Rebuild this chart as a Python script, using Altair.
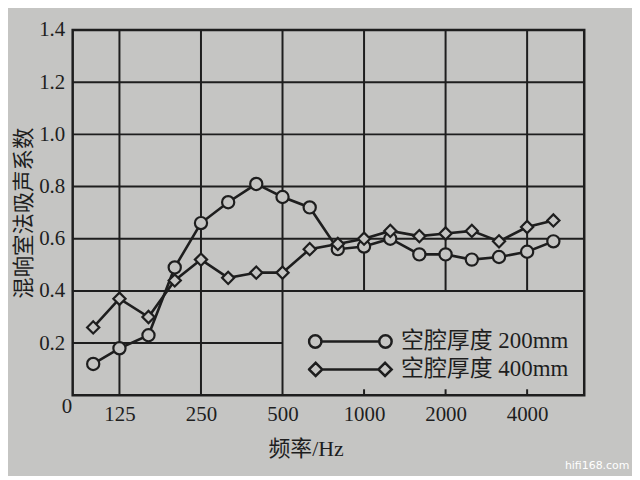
import altair as alt
import pandas as pd

# ---- data ----
freqs = [100, 125, 160, 200, 250, 315, 400, 500, 630, 800, 1000, 1250, 1600, 2000, 2500, 3150, 4000, 5000]
s200 = [0.12, 0.18, 0.23, 0.49, 0.66, 0.74, 0.81, 0.76, 0.72, 0.56, 0.57, 0.60, 0.54, 0.54, 0.52, 0.53, 0.55, 0.59]
s400 = [0.26, 0.37, 0.30, 0.44, 0.52, 0.45, 0.47, 0.47, 0.56, 0.58, 0.60, 0.63, 0.61, 0.62, 0.63, 0.59, 0.645, 0.67]
series_names = ["空腔厚度 200mm", "空腔厚度 400mm"]
x_ticks = [125, 250, 500, 1000, 2000, 4000]
y_ticks = [0, 0.2, 0.4, 0.6, 0.8, 1.0, 1.2, 1.4]
vgrid_full = [125, 250, 500]
vgrid_part = [1000, 2000, 4000]
hgrid_full = [0.4, 0.6, 0.8, 1.0, 1.2]
hgrid_part = [0.2]
X_MIN, X_MAX = 84, 6500

BG = "#c5c5c3"
INK = "#1e1e1e"
W, H = 514, 367
SERIF = "Liberation Serif, Noto Sans CJK SC"

rows = []
for name, vals in zip(series_names, [s200, s400]):
    for f, v in zip(freqs, vals):
        rows.append({"freq": f, "value": v, "series": name})
df = pd.DataFrame(rows)

xs = alt.Scale(type="log", domain=[X_MIN, X_MAX], nice=False)
ys = alt.Scale(domain=[0, 1.4], nice=False)

x_axis = alt.Axis(values=x_ticks, format="d", grid=False, ticks=False, domain=False,
                  labelFont=SERIF, labelFontSize=21, labelColor=INK, labelPadding=8,
                  labelFlush=False, title="频率/Hz", titleFont=SERIF, titleFontSize=22,
                  titleFontWeight="normal", titleColor=INK, titleX=234, titleY=54,
                  titleBaseline="middle", titleAlign="center")
y_axis = alt.Axis(values=y_ticks, grid=False, ticks=False, domain=False,
                  labelExpr="datum.value == 0 ? '0' : format(datum.value, '.1f')",
                  labelFont=SERIF, labelFontSize=21, labelColor=INK,
                  labelPadding={"condition": {"test": "datum.value == 0", "value": 1}, "value": 8},
                  labelFlush=False,
                  labelBaseline={"condition": {"test": "datum.value == 0", "value": "top"}, "value": "middle"},
                  title="混响室法吸声系数", titleFont=SERIF, titleFontSize=21.5,
                  titleFontWeight="normal", titleColor=INK, titleX=-48, titleY=H / 2,
                  titleBaseline="middle", titleAlign="center", titleAngle=270)

base = alt.Chart(df)

vfull = alt.Chart(pd.DataFrame({"f": vgrid_full})).mark_rule(color=INK, strokeWidth=2).encode(
    x=alt.X("f:Q", scale=xs, axis=x_axis))
vpart = alt.Chart(pd.DataFrame({"f": vgrid_part})).mark_rule(color=INK, strokeWidth=2).encode(
    x=alt.X("f:Q", scale=xs), y=alt.datum(0.4, scale=ys), y2=alt.datum(1.4))
vtick = alt.Chart(pd.DataFrame({"f": vgrid_part})).mark_rule(color=INK, strokeWidth=2).encode(
    x=alt.X("f:Q", scale=xs), y=alt.value(H), y2=alt.value(H - 6))
hfull = alt.Chart(pd.DataFrame({"v": hgrid_full})).mark_rule(color=INK, strokeWidth=2).encode(
    y=alt.Y("v:Q", scale=ys, axis=y_axis))
hpart = alt.Chart(pd.DataFrame({"v": hgrid_part})).mark_rule(color=INK, strokeWidth=2).encode(
    y=alt.Y("v:Q", scale=ys), x=alt.datum(X_MIN, scale=xs), x2=alt.datum(500))

lines = base.mark_line(color=INK, strokeWidth=2.6).encode(
    x=alt.X("freq:Q", scale=xs), y=alt.Y("value:Q", scale=ys), detail="series:N")
points = base.mark_point(filled=True, fill=BG, stroke=INK, strokeWidth=2.2, size=150, opacity=1).encode(
    x=alt.X("freq:Q", scale=xs), y=alt.Y("value:Q", scale=ys),
    shape=alt.Shape("series:N", scale=alt.Scale(domain=series_names, range=["circle", "diamond"]), legend=None))

# legend symbols: line with a marker at both ends (unit box -1..1)
r = 0.15
circ_path = (f"M -1 0 A {r} {r} 0 1 0 {-1 + 2*r} 0 A {r} {r} 0 1 0 -1 0 Z "
             f"M {-1 + 2*r} 0 L {1 - 2*r} 0 "
             f"M {1 - 2*r} 0 A {r} {r} 0 1 0 1 0 A {r} {r} 0 1 0 {1 - 2*r} 0 Z")
rd = 0.16
diam_path = (f"M -1 0 L {-1 + rd} {-rd} L {-1 + 2*rd} 0 L {-1 + rd} {rd} Z "
             f"M {-1 + 2*rd} 0 L {1 - 2*rd} 0 "
             f"M {1 - 2*rd} 0 L {1 - rd} {-rd} L 1 0 L {1 - rd} {rd} Z")
SYM = 83 * 83
legend_layer = base.transform_filter("false").mark_point(
    filled=False, color=INK, stroke=INK, strokeWidth=2.5, size=SYM, opacity=1).encode(
    x=alt.X("freq:Q", scale=xs), y=alt.Y("value:Q", scale=ys),
    shape=alt.Shape("series:N", scale=alt.Scale(domain=series_names, range=[circ_path, diam_path]),
                    legend=alt.Legend(orient="none", legendX=236, legendY=299, title=None,
                                      symbolSize=SYM, symbolStrokeWidth=2.5, symbolStrokeColor=INK,
                                      symbolOpacity=1,
                                      labelFont=SERIF, labelFontSize=23, labelColor=INK,
                                      labelOffset=8, labelLimit=400, clipHeight=28,
                                      rowPadding=0, padding=0)))

watermark = alt.Chart(pd.DataFrame({"t": ["hifi168.com"]})).mark_text(
    color="white", fontSize=11, font="DejaVu Sans", align="center", baseline="middle").encode(
    text="t:N", x=alt.value(527), y=alt.value(438))

chart = alt.layer(vfull, vpart, vtick, hfull, hpart, lines, points, legend_layer, watermark).resolve_scale(
    shape="independent").resolve_legend(shape="independent").properties(
    width=W, height=H, background=BG, autosize="none",
    padding={"left": 65, "top": 21, "right": 48, "bottom": 80}
).configure_view(stroke=INK, strokeWidth=2.5)

chart.save("out.html", embed_options={"renderer": "svg", "actions": False})
